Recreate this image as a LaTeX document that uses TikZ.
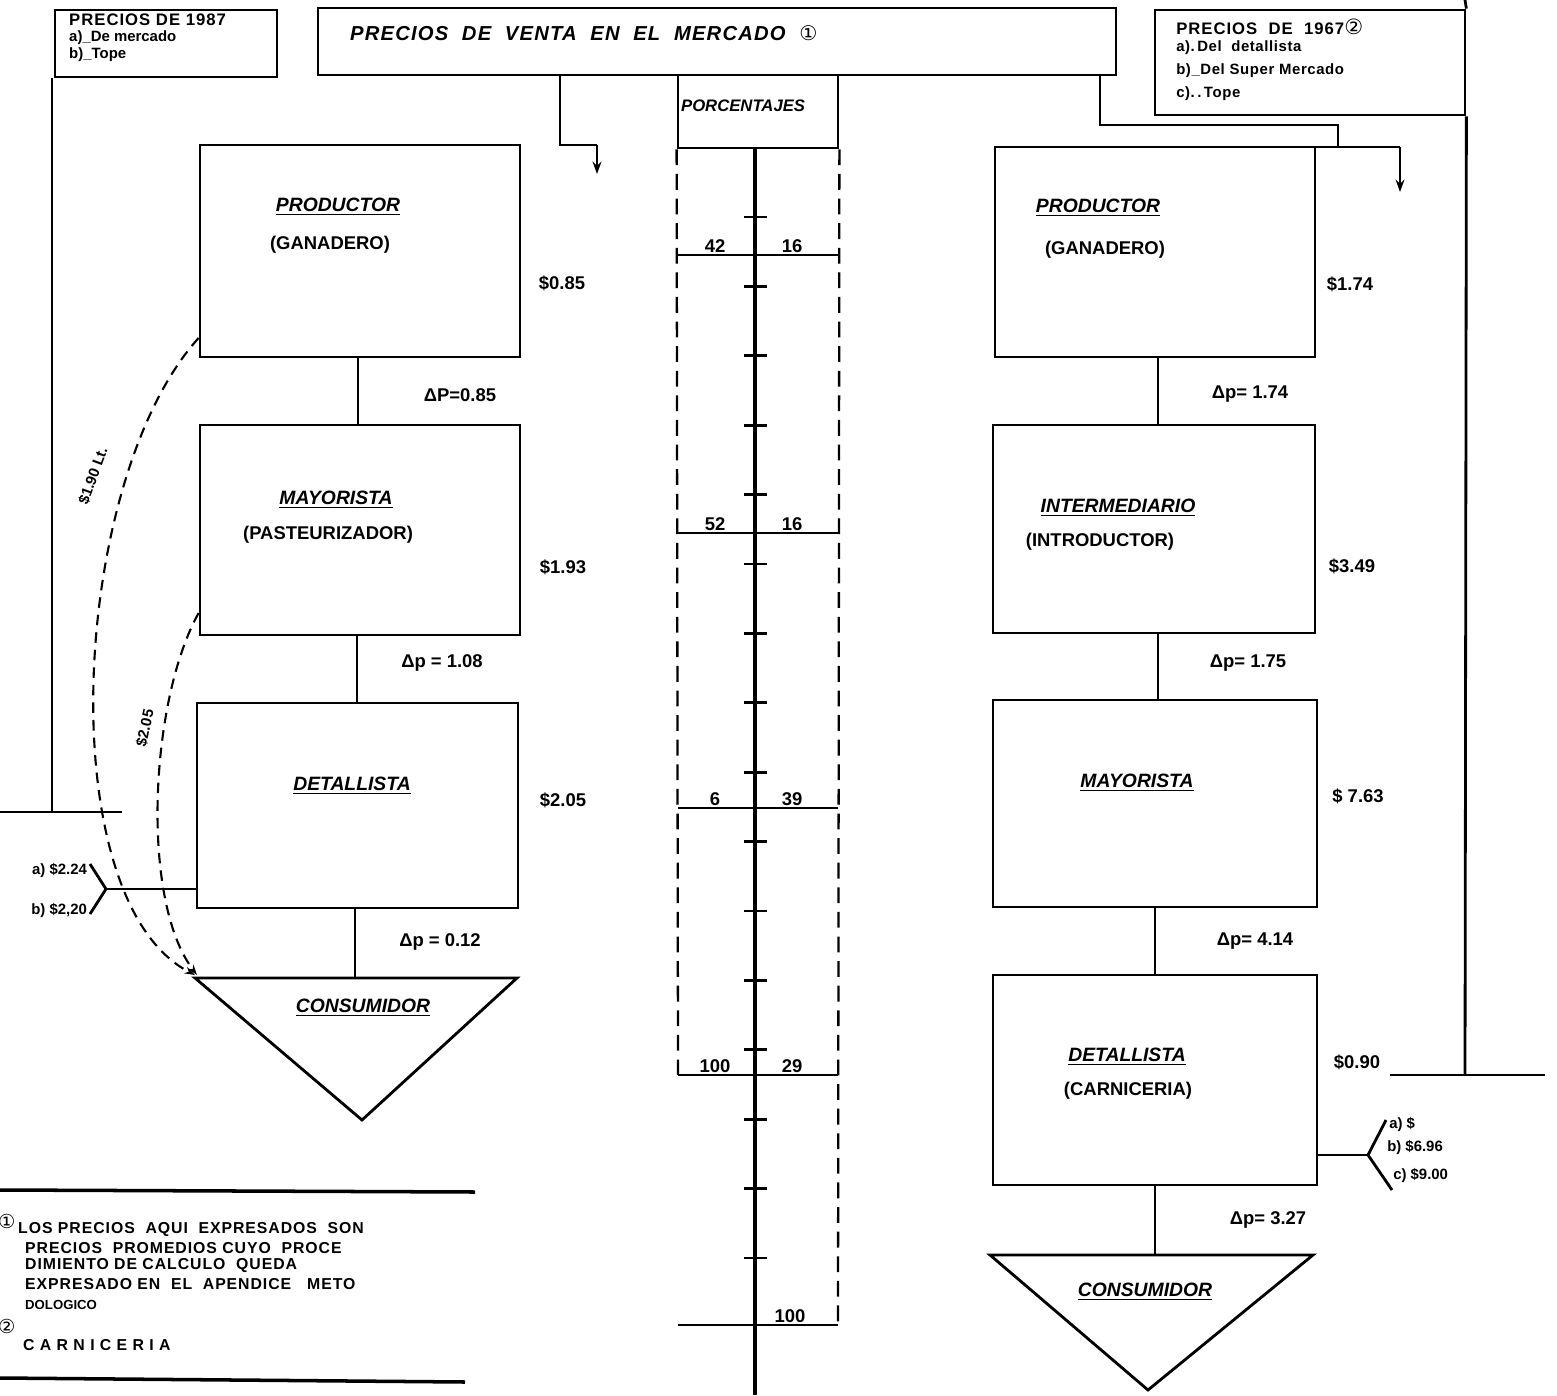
\documentclass[tikz,border=0pt]{standalone}
\usepackage{fontspec}
\setmainfont{Liberation Sans}
\newfontfamily\symfont{DejaVu Sans}
\usetikzlibrary{arrows.meta}

\tikzset{
  caja/.style={draw, line width=1.6pt, inner sep=0pt},
  linea/.style={line width=1.6pt},
  guia/.style={line width=1.3pt, dash pattern=on 9pt off 5pt},
  curva/.style={line width=1.2pt, dash pattern=on 6pt off 4pt},
  etiq/.style={font=\bfseries\fontsize{10.5}{12}\selectfont, inner sep=1pt},
  nombre/.style={font=\bfseries\itshape\fontsize{11}{12}\selectfont, inner sep=1pt},
  nota/.style={font=\bfseries\fontsize{9}{10}\addfontfeatures{LetterSpace=6}\selectfont, inner sep=0.5pt, anchor=west},
}

\begin{document}
\begin{tikzpicture}[x=0.02cm, y=-0.02cm]
\useasboundingbox (0,0) rectangle (1557,1395);

% top boxes
\node[caja, minimum width=4.44cm, minimum height=1.34cm] (preL) at (166,43.5) {};
\node[caja, minimum width=15.96cm, minimum height=1.34cm] (titulo) at (717,41.5) {};
\node[caja, minimum width=6.2cm, minimum height=2.1cm] (preR) at (1310,62.5) {};
\node[caja, minimum width=3.2cm, minimum height=1.46cm] (porc) at (758,111.5) {};

\node[nota, font=\bfseries\fontsize{9.5}{10}\addfontfeatures{LetterSpace=6}\selectfont] (preLa) at (68,20) {PRECIOS\ DE\ 1987};
\node[nota, font=\bfseries\fontsize{8.5}{9}\selectfont] (preLb) at (68,38) {a)\_De mercado};
\node[nota, font=\bfseries\fontsize{8.5}{9}\selectfont] (preLc) at (68,55) {b)\_Tope};

\node[nombre, anchor=west, font=\bfseries\itshape\fontsize{11.5}{12}\addfontfeatures{LetterSpace=6}\selectfont] (tit) at (348,33)
  {PRECIOS\ \ DE\ \ VENTA\ \ EN\ \ EL\ \ MERCADO\ \ {\symfont\mdseries ①}};

\node[nota, font=\bfseries\fontsize{9.5}{11}\addfontfeatures{LetterSpace=6}\selectfont] (preRa) at (1175,27) {PRECIOS\ \ DE\ \ 1967{\symfont\mdseries\fontsize{12}{12}\selectfont ②}};
\node[nota, font=\bfseries\fontsize{8.5}{9}\addfontfeatures{LetterSpace=4}\selectfont] (preRb) at (1175,48) {a).\,Del\ \ detallista};
\node[nota, font=\bfseries\fontsize{8.5}{9}\addfontfeatures{LetterSpace=4}\selectfont] (preRc) at (1175,71) {b)\_Del Super Mercado};
\node[nota, font=\bfseries\fontsize{8.5}{9}\addfontfeatures{LetterSpace=4}\selectfont] (preRd) at (1175,94) {c).\,.\,Tope};

\node[nombre, anchor=west, font=\bfseries\itshape\fontsize{9.5}{11}\selectfont] (porct) at (679,106) {PORCENTAJES};

% outer lines
\coordinate (baseL) at (52,812);
\draw[linea] (preL.south west -| baseL) -- (baseL);
\draw[linea] (0,812) -- (122,812);
\draw[linea] (1465,0) -- (preR.north east);
\draw[linea] (preR.south east) -- (1465,1075);
\draw[linea] (1390,1075) -- (1545,1075);

% from title to the chains
\coordinate (flL) at (597,145);
\coordinate (flR) at (1400,147);
\draw[linea] (titulo.south -| 560,0) -- (560,145) -- (flL);
\draw[linea, -{Stealth[length=7pt, width=5pt]}] (flL) -- (597,174);
\draw[linea] (titulo.south -| 1100,0) -- (1100,125) -- (1338,125) -- (1338,147);
\draw[linea] (1315,147) -- (flR);
\draw[linea, -{Stealth[length=7pt, width=5pt]}] (flR) -- (1400,192);

% percentage scale
\draw[guia] (porc.south west) -- (678,1075);
\draw[guia] (porc.south east) -- (838,1325);
\draw[line width=2.2pt] (755,148) -- (755,1395);
\foreach \i in {0,...,15} {
  \draw[linea] (744,{217+69.4*\i}) -- (767,{217+69.4*\i});
}
\foreach \y/\a/\b [count=\n] in {255/42/16, 533/52/16, 808/6/39, 1075/100/29} {
  \draw[line width=1.3pt] (678,\y) -- (838,\y);
  \node[etiq, anchor=south] (pa\n) at (715,\y) {\a};
  \node[etiq, anchor=south] (pb\n) at (792,\y) {\b};
}
\draw[line width=1.3pt] (678,1325) -- (838,1325);
\node[etiq, anchor=south] (pc) at (790,1325) {100};

% left chain
\node[caja, minimum width=6.4cm, minimum height=4.24cm] (prodL) at (360,251) {};
\node[caja, minimum width=6.4cm, minimum height=4.2cm] (mayL) at (360,530) {};
\node[caja, minimum width=6.42cm, minimum height=4.1cm] (detL) at (357.5,805.5) {};
\coordinate (consL) at (355,978);
\draw[linea] (195,978) -- (517,978) -- (362,1120) -- cycle;

\node[nombre] (tProdL) at (338,207) {\underline{PRODUCTOR}};
\node[etiq] (sProdL) at (330,245) {(GANADERO)};
\node[nombre] (tMayL) at (336,500) {\underline{MAYORISTA}};
\node[etiq] (sMayL) at (328,535) {(PASTEURIZADOR)};
\node[nombre] (tDetL) at (352,786) {\underline{DETALLISTA}};
\node[nombre] (tConsL) at (363,1008) {\underline{CONSUMIDOR}};

\draw[linea] (prodL.south -| 358,0) -- (mayL.north -| 358,0);
\draw[linea] (mayL.south -| 357,0) -- (detL.north -| 357,0);
\draw[linea] (detL.south -| 355,0) -- (consL);

\node[etiq] (vProdL) at (562,283) {\$0.85};
\node[etiq] (vMayL) at (563,567) {\$1.93};
\node[etiq] (vDetL) at (563,800) {\$2.05};
\node[etiq] (dpL1) at (460,395) {ΔP=0.85};
\node[etiq] (dpL2) at (442,663) {Δp = 1.08};
\node[etiq] (dpL3) at (440,942) {Δp = 0.12};

% left side prices
\coordinate (horq) at (106,889);
\draw[linea] (detL.west |- horq) -- (horq);
\draw[linea] (90,864) -- (horq) -- (90,914);
\node[etiq, anchor=east, font=\bfseries\fontsize{8.5}{9}\selectfont] (spa) at (89,870) {a) \$2.24};
\node[etiq, anchor=east, font=\bfseries\fontsize{8.5}{9}\selectfont] (spb) at (89,910) {b) \$2,20};

% dashed curves
\draw[curva, -{Stealth[length=6pt, width=4pt]}] (prodL.west |- 0,338) .. controls (70,480) and (50,900) .. (195,975);
\draw[curva, -{Stealth[length=6pt, width=4pt]}] (mayL.west |- 0,613) .. controls (150,700) and (140,900) .. (197,975);
\node[etiq, rotate=70, font=\bfseries\fontsize{8.5}{9}\selectfont] (cv1) at (93,476) {\$1.90\hspace{0.25em}Lt.};
\node[etiq, rotate=78, font=\bfseries\fontsize{8.5}{9}\selectfont] (cv2) at (145,728) {\$2.05};

% right chain
\node[caja, minimum width=6.4cm, minimum height=4.2cm] (prodR) at (1155,252) {};
\node[caja, minimum width=6.44cm, minimum height=4.16cm] (intR) at (1154,529) {};
\node[caja, minimum width=6.48cm, minimum height=4.14cm] (mayR) at (1155,803.5) {};
\node[caja, minimum width=6.48cm, minimum height=4.2cm] (detR) at (1155,1080) {};
\coordinate (consR) at (1155,1255);
\draw[linea] (990,1255) -- (1313,1255) -- (1148,1390) -- cycle;

\node[nombre] (tProdR) at (1098,208) {\underline{PRODUCTOR}};
\node[etiq] (sProdR) at (1105,250) {(GANADERO)};
\node[nombre] (tIntR) at (1118,508) {\underline{INTERMEDIARIO}};
\node[etiq] (sIntR) at (1100,542) {(INTRODUCTOR)};
\node[nombre] (tMayR) at (1137,783) {\underline{MAYORISTA}};
\node[nombre] (tDetR) at (1127,1057) {\underline{DETALLISTA}};
\node[etiq] (sDetR) at (1128,1091) {(CARNICERIA)};
\node[nombre] (tConsR) at (1145,1292) {\underline{CONSUMIDOR}};

\draw[linea] (prodR.south -| 1158,0) -- (intR.north -| 1158,0);
\draw[linea] (intR.south -| 1158,0) -- (mayR.north -| 1158,0);
\draw[linea] (mayR.south -| 1155,0) -- (detR.north -| 1155,0);
\draw[linea] (detR.south) -- (consR);

\node[etiq] (vProdR) at (1350,284) {\$1.74};
\node[etiq] (vIntR) at (1352,566) {\$3.49};
\node[etiq] (vMayR) at (1358,796) {\$ 7.63};
\node[etiq] (vDetR) at (1357,1062) {\$0.90};
\node[etiq] (dpR1) at (1250,394) {Δp= 1.74};
\node[etiq] (dpR2) at (1248,663) {Δp= 1.75};
\node[etiq] (dpR3) at (1255,941) {Δp= 4.14};
\node[etiq] (dpR4) at (1268,1220) {Δp= 3.27};

% right side prices
\coordinate (horqR) at (1368,1155);
\draw[linea] (detR.east |- horqR) -- (horqR);
\draw[linea] (1386,1120) -- (horqR) -- (1392,1190);
\node[nota, font=\bfseries\fontsize{8.5}{9}\selectfont] (spRa) at (1388,1124) {a) \$};
\node[nota, font=\bfseries\fontsize{8.5}{9}\selectfont] (spRb) at (1386,1147) {b) \$6.96};
\node[nota, font=\bfseries\fontsize{8.5}{9}\selectfont] (spRc) at (1392,1175) {c) \$9.00};

% notes
\draw[line width=2pt] (0,1190) -- (475,1192);
\draw[line width=2pt] (0,1378) -- (465,1382);
\node[nota, font=\symfont\fontsize{11}{11}\selectfont] (n1) at (-3,1221) {①};
\node[nota] (nl1) at (17,1230) {LOS PRECIOS\ \ AQUI\ \ EXPRESADOS\ \ SON};
\node[nota] (nl2) at (24,1248) {PRECIOS\ \ PROMEDIOS CUYO\ \ PROCE};
\node[nota] (nl3) at (24,1266) {DIMIENTO DE CALCULO\ \ QUEDA};
\node[nota] (nl4) at (24,1284) {EXPRESADO EN\ \ EL\ \ APENDICE\ \ \ METO};
\node[nota, font=\bfseries\fontsize{7.5}{8}\selectfont] (nl5) at (24,1305) {DOLOGICO};
\node[nota, font=\symfont\fontsize{11}{11}\selectfont] (n2) at (-3,1326) {②};
\node[nota] (nl6) at (22,1345) {C A R N I C E R I A};

\end{tikzpicture}
\end{document}
